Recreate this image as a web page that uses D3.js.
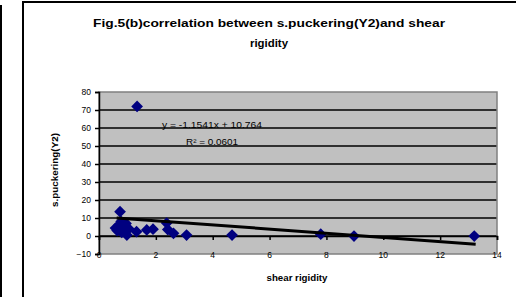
<!DOCTYPE html>
<html><head><meta charset="utf-8">
<script src="https://cdn.jsdelivr.net/npm/d3@7"></script>
<style>body{margin:0;background:#fff}svg{display:block}text{font-family:Arial,"Liberation Sans",sans-serif}</style>
</head><body>
<svg id="c" width="516" height="297"></svg>
<script>
const shearRigidity = [0.58,0.64,0.70,0.74,0.78,0.80,0.85,0.90,0.95,0.98,1.05,1.32,1.68,1.90,2.38,2.42,2.62,3.08,1.34,4.68,7.8,8.97,13.2];
const puckering     = [4.4,3.0,6.0,13.5,8.0,2.0,5.0,3.0,7.0,0.5,4.0,2.4,3.4,3.8,7.2,3.6,1.5,0.5,72,0.5,1.0,0.0,0.0];
const xTicks = [0,2,4,6,8,10,12,14];
const yTicks = [-10,0,10,20,30,40,50,60,70,80];
const slope = -1.1541, intercept = 10.764;
const trendRange = [0.62, 13.25];
const titleLines = ["Fig.5(b)correlation between s.puckering(Y2)and shear","rigidity"];
const eqText = "y = -1.1541x + 10.764";
const r2Text = "R² = 0.0601";

const svg = d3.select("#c");
const L=99,R=497,T=92,B=254;
const x = d3.scaleLinear().domain([0,14]).range([L,R]);
const y = d3.scaleLinear().domain([-10,80]).range([B,T]);

// outer frames
svg.append("line").attr("x1",1).attr("x2",1).attr("y1",5).attr("y2",297).attr("stroke","#000").attr("stroke-width",2);
svg.append("rect").attr("x",23).attr("y",2).attr("width",520).attr("height",320).attr("fill","#fff").attr("stroke","#000").attr("stroke-width",2);

// title
const titleW = [352, 38];
svg.append("g").selectAll("text").data(titleLines).join("text")
  .attr("x",269).attr("y",(d,i)=>27+i*20).attr("text-anchor","middle")
  .attr("font-size",11).attr("font-weight","bold")
  .attr("textLength",(d,i)=>titleW[i]).attr("lengthAdjust","spacingAndGlyphs").text(d=>d);

// plot area
svg.append("rect").attr("x",L).attr("y",T).attr("width",R-L).attr("height",B-T).attr("fill","#c0c0c0");
// gridlines
svg.append("g").selectAll("line").data(yTicks.filter(v=>v>-10&&v<80)).join("line")
  .attr("x1",L).attr("x2",R).attr("y1",d=>y(d)).attr("y2",d=>y(d)).attr("stroke","#000").attr("stroke-width",1.6);
svg.append("rect").attr("x",L).attr("y",T).attr("width",R-L).attr("height",B-T).attr("fill","none").attr("stroke","#808080").attr("stroke-width",1.5);

// y axis
const ya = svg.append("g").attr("transform",`translate(${L},0)`).call(d3.axisLeft(y).tickValues(yTicks).tickSize(4).tickPadding(4));
ya.select(".domain").attr("stroke","#000").attr("stroke-width",1.5);
ya.selectAll(".tick line").attr("stroke","#000").attr("stroke-width",1.5);
ya.selectAll("text").attr("font-size",8.5).attr("fill","#000").attr("font-family","Arial,'Liberation Sans',sans-serif");

// x axis at y=0 with ticks; labels low
const xa = svg.append("g").attr("transform",`translate(0,${y(0)})`).call(d3.axisBottom(x).tickValues(xTicks).tickSize(4).tickFormat(""));
xa.select(".domain").attr("stroke","#000").attr("stroke-width",1.5);
xa.selectAll(".tick line").attr("stroke","#000").attr("stroke-width",1.5);
svg.append("g").selectAll("text").data(xTicks).join("text")
  .attr("x",d=>x(d)).attr("y",B+3.5).attr("text-anchor","middle").attr("font-size",8.5).text(d=>d);

// axis titles
svg.append("text").attr("x",297).attr("y",281).attr("text-anchor","middle").attr("font-size",8.5).attr("font-weight","bold")
  .attr("textLength",61).attr("lengthAdjust","spacingAndGlyphs").text("shear rigidity");
svg.append("text").attr("transform","translate(58,170) rotate(-90)").attr("text-anchor","middle").attr("font-size",8.5).attr("font-weight","bold")
  .attr("textLength",74).attr("lengthAdjust","spacingAndGlyphs").text("s.puckering(Y2)");

// points
const diamond = d3.symbol().type(d3.symbolDiamond2).size(88);
svg.append("g").selectAll("path").data(shearRigidity.map((v,i)=>[v,puckering[i]])).join("path")
  .attr("d",diamond).attr("transform",d=>`translate(${x(d[0])},${y(d[1])})`).attr("fill","#000080");

// trendline
svg.append("line").attr("x1",x(trendRange[0])).attr("y1",y(slope*trendRange[0]+intercept))
  .attr("x2",x(trendRange[1])).attr("y2",y(slope*trendRange[1]+intercept)).attr("stroke","#000").attr("stroke-width",3);

// equation
svg.append("text").attr("x",212).attr("y",128).attr("text-anchor","middle").attr("font-size",8.5)
  .attr("textLength",100).attr("lengthAdjust","spacingAndGlyphs").text(eqText);
svg.append("text").attr("x",212).attr("y",145).attr("text-anchor","middle").attr("font-size",8.5)
  .attr("textLength",52).attr("lengthAdjust","spacingAndGlyphs").text(r2Text);
</script>
</body></html>
